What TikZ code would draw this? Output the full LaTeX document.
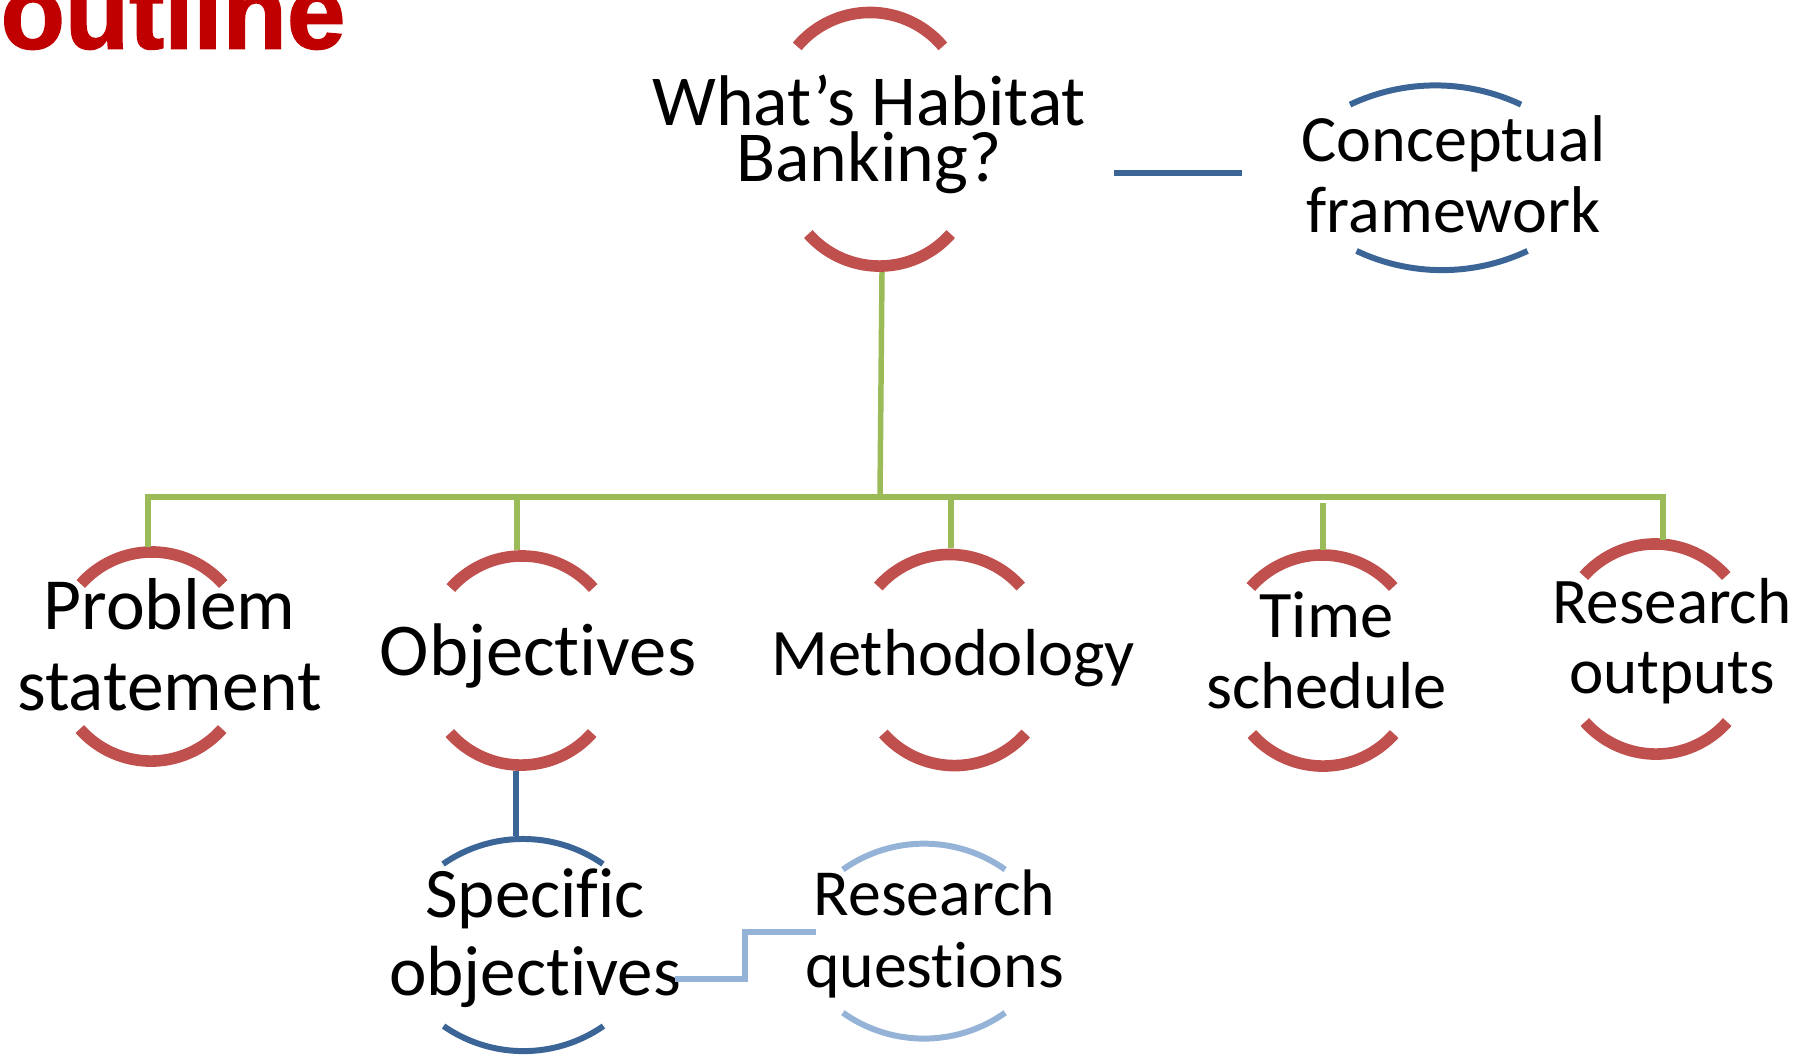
\documentclass[tikz,border=0pt]{standalone}
\usepackage{fontspec}
\setmainfont[Ligatures={CommonOff}]{Carlito}
\newfontfamily\headfont[FakeBold=1.5]{Liberation Sans Bold}

\definecolor{arcred}{HTML}{C0504D}
\definecolor{treegreen}{HTML}{9BBB59}
\definecolor{deepblue}{HTML}{3B6497}
\definecolor{paleblue}{HTML}{95B3D7}
\definecolor{headred}{HTML}{C00000}

% two centred lines, first baseline is the box baseline
\newcommand\twolines[3]{\vtop{\baselineskip=#1\lineskiplimit=-100pt\lineskip=0pt
  \halign{\hfil##\hfil\cr#2\cr#3\cr}}}
% upper and lower arc of a label ring: style, centre, radius, half angle
\newcommand\toparc[4]{\draw[#1] (#2) ++({90+#4}:#3) arc[start angle={90+#4}, end angle={90-#4}, radius=#3];}
\newcommand\botarc[4]{\draw[#1] (#2) ++({270-#4}:#3) arc[start angle={270-#4}, end angle={270+#4}, radius=#3];}

\begin{document}
\begin{tikzpicture}[x=0.01cm, y=-0.01cm,
  lbl/.style={inner sep=0pt, anchor=base, text=black},
  ringred/.style={draw=arcred, line width=3.3pt},
  ringblue/.style={draw=deepblue, line width=1.7pt},
  ringpale/.style={draw=paleblue, line width=1.7pt},
  tree/.style={draw=treegreen, line width=1.56pt, line join=miter},
  linkblue/.style={draw=deepblue, line width=1.7pt},
  linkpale/.style={draw=paleblue, line width=1.56pt, line join=miter}]

\path[use as bounding box, clip] (0,0) rectangle (1810,1056);

% heading
\node[inner sep=0pt, anchor=base west, text=headred,
      font=\headfont\fontsize{29.9pt}{30pt}\selectfont] (title) at (0,48.5) {outline};

% labels
\node[lbl, font=\fontsize{20.4pt}{20pt}\selectfont] (hab) at (869,125.5)
  {\twolines{15.93pt}{What’s Habitat}{Banking?}};
\node[lbl, font=\fontsize{18.8pt}{20pt}\selectfont] (cf) at (1453.5,161)
  {\twolines{20.2pt}{Conceptual}{framework}};
\node[lbl, font=\fontsize{20.9pt}{23pt}\selectfont] (ps) at (169.5,629)
  {\twolines{23.05pt}{Problem}{statement}};
\node[lbl, font=\fontsize{21.2pt}{23pt}\selectfont] (obj) at (538,675) {Objectives};
\node[lbl, font=\fontsize{18.9pt}{20pt}\selectfont] (meth) at (953,675) {Methodology};
\node[lbl, font=\fontsize{18.9pt}{20pt}\selectfont] (ts) at (1326.5,637)
  {\twolines{20.2pt}{Time}{schedule}};
\node[lbl, font=\fontsize{18.5pt}{20pt}\selectfont] (ro) at (1672,623)
  {\twolines{19.9pt}{Research}{outputs}};
\node[lbl, font=\fontsize{20.2pt}{22pt}\selectfont] (so) at (535,917)
  {\twolines{22.2pt}{Specific}{objectives}};
\node[lbl, font=\fontsize{18.7pt}{20pt}\selectfont] (rq) at (934.5,915)
  {\twolines{20.5pt}{Research}{questions}};

% rings
\toparc{ringred}{870,107.5}{0.95cm}{50}
\botarc{ringred}{879.5,171}{0.95cm}{48.5}
\toparc{ringred}{152,647}{0.95cm}{48.5}
\botarc{ringred}{151,666}{0.95cm}{48.5}
\toparc{ringred}{522,651}{0.95cm}{48.5}
\botarc{ringred}{521,670}{0.95cm}{48.5}
\toparc{ringred}{949.5,649.5}{0.95cm}{48.5}
\botarc{ringred}{954.5,670.5}{0.95cm}{48.5}
\toparc{ringred}{1322,650}{0.95cm}{48.5}
\botarc{ringred}{1323,671}{0.95cm}{48.5}
\toparc{ringred}{1655,639}{0.95cm}{48.5}
\botarc{ringred}{1656,659}{0.95cm}{48.5}
\toparc{ringblue}{1435.5,285.5}{2cm}{25.3}
\botarc{ringblue}{1442,70}{2cm}{25.3}
\toparc{ringblue}{523,979}{1.4cm}{34.8}
\botarc{ringblue}{523.5,911}{1.4cm}{34.8}
\toparc{ringpale}{924,983.7}{1.4cm}{35.4}
\botarc{ringpale}{924,898.5}{1.4cm}{35.4}

% connection points on the rings
\coordinate (hab-b) at (882,272);
\coordinate (hab-r) at (1114,173);
\coordinate (cf-l) at (1242,173);
\coordinate (hub) at (880,494);
\coordinate (bus-l) at (148,497);
\coordinate (bus-r) at (1663,497);
\coordinate (ps-t) at (148,547);
\coordinate (obj-t) at (517,550);
\coordinate (meth-t) at (951,548);
\coordinate (ts-t) at (1323,550);
\coordinate (ts-j) at (1323,503);
\coordinate (ro-t) at (1663,540);
\coordinate (obj-b) at (516,771);
\coordinate (so-t) at (516,836);
\coordinate (so-r) at (675,979);
\coordinate (rq-l) at (816,932);

% connectors
\draw[linkblue] (hab-r) -- (cf-l);
\draw[tree] (hab-b) -- (hub);
\draw[tree] (ps-t) -- (bus-l) -- (bus-r) -- (ro-t);
\draw[tree] (obj-t) -- (obj-t |- bus-l);
\draw[tree] (meth-t) -- (meth-t |- bus-l);
\draw[tree] (ts-t) -- (ts-j);
\draw[linkblue] (obj-b) -- (so-t);
\draw[linkpale] (so-r) -- ++(70,0) |- (rq-l);

\end{tikzpicture}
\end{document}
